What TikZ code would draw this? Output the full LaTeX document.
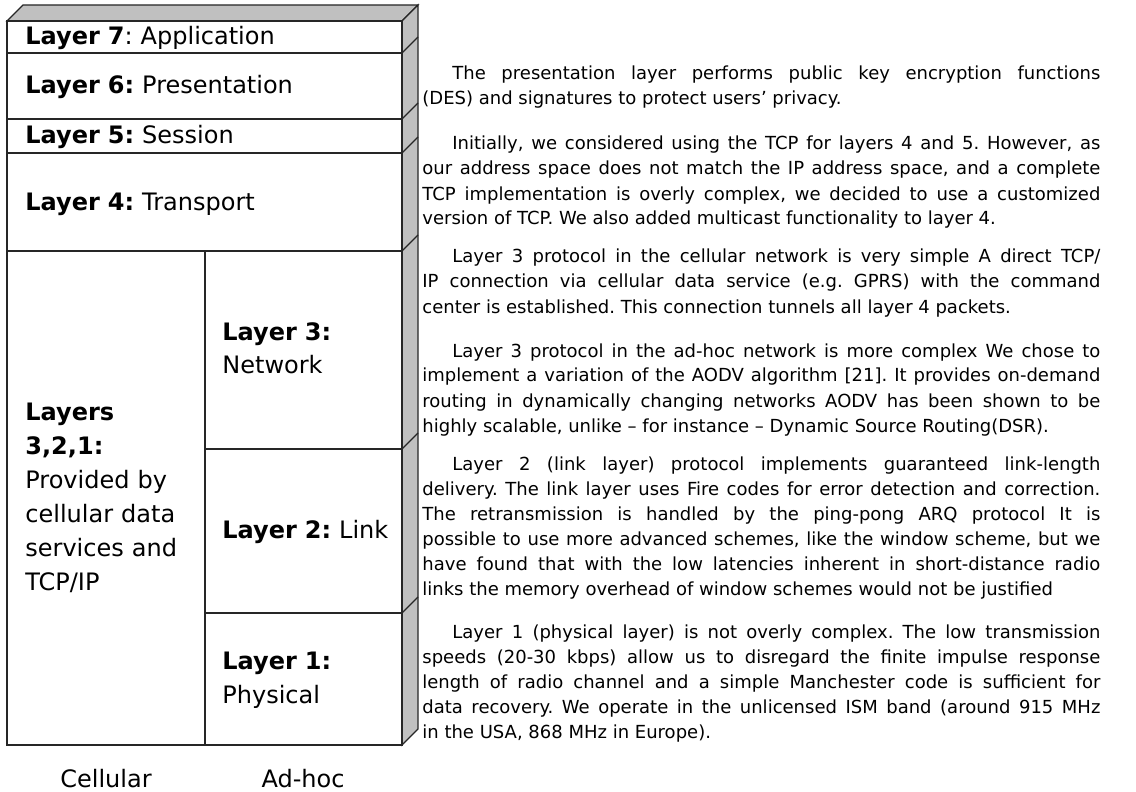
\documentclass[tikz,border=0pt]{standalone}
\usepackage{fontspec}
\setmainfont{DejaVu Sans}
\definecolor{gris}{HTML}{C0C0C0}
\definecolor{linea}{HTML}{262626}
% linea justificada
\newcommand{\jl}[1]{\makebox[\linewidth][s]{#1}\\}
\tikzset{
  borde/.style={draw=linea, line width=0.6pt},
  cara/.style={borde, fill=gris},
  capa/.style={anchor=base west, inner sep=0pt, text width=180pt, align=left,
    font=\fontsize{12pt}{17pt}\selectfont\frenchspacing},
  parr/.style={anchor=base west, inner sep=0pt, text width=339pt, align=justify,
    font=\fontsize{9pt}{12.5pt}\selectfont\frenchspacing},
}
\begin{document}
\begin{tikzpicture}[x=0.5pt, y=-0.5pt]
  \useasboundingbox (0,0) rectangle (1136,792);
  % Caras en perspectiva
  \draw[cara] (7,21) -- (23,5) -- (418,5) -- (402,21) -- cycle;
  \draw[cara] (402,21) -- (418,5) -- (418,729) -- (402,745) -- cycle;
  % Cara frontal y divisiones
  \draw[borde] (7,21) rectangle (402,745);
  \foreach \y in {53,119,153,251} \draw[borde] (7,\y) -- (402,\y);
  \draw[borde] (205,251) -- (205,745);
  \foreach \y in {449,613} \draw[borde] (205,\y) -- (402,\y);
  \foreach \y in {53,119,153,251,449,613} \draw[borde] (402,\y) -- ++(16,-16);
  % Capas
  \node[capa] (l7) at (25,45) {\textbf{Layer 7}: Application};
  \node[capa] (l6) at (25,94) {\textbf{Layer 6:} Presentation};
  \node[capa] (l5) at (25,144) {\textbf{Layer 5:} Session};
  \node[capa] (l4) at (25,211) {\textbf{Layer 4:} Transport};
  \node[capa, text width=85pt] (l321) at (25,420) {\textbf{Layers}\\\textbf{3,2,1:}\\Provided by\\cellular data\\services and\\TCP/IP};
  \node[capa, text width=85pt] (l3) at (222,340) {\textbf{Layer 3:}\\Network};
  \node[capa, text width=85pt] (l2) at (222,538) {\textbf{Layer 2:} Link};
  \node[capa, text width=85pt] (l1) at (222,669) {\textbf{Layer 1:}\\Physical};
  % Columnas
  \node[capa, text width={}, anchor=base] (cel) at (106,787) {Cellular};
  \node[capa, text width={}, anchor=base] (adh) at (303,787) {Ad-hoc};
  % Texto
  \node[parr] (p1) at (422,80) {\jl{\hspace*{15pt}The presentation layer performs public key encryption functions}(DES) and signatures to protect users’ privacy.};
  \node[parr] (p2) at (422,150) {\jl{\hspace*{15pt}Initially, we considered using the TCP for layers 4 and 5. However, as}\jl{our address space does not match the IP address space, and a complete}\jl{TCP implementation is overly complex, we decided to use a customized}version of TCP. We also added multicast functionality to layer 4.};
  \node[parr] (p3) at (422,263) {\jl{\hspace*{15pt}Layer 3 protocol in the cellular network is very simple A direct TCP/}\jl{IP connection via cellular data service (e.g. GPRS) with the command}center is established. This connection tunnels all layer 4 packets.};
  \node[parr] (p4) at (422,357) {\jl{\hspace*{15pt}Layer 3 protocol in the ad-hoc network is more complex We chose to}\jl{implement a variation of the AODV algorithm [21]. It provides on-demand}\jl{routing in dynamically changing networks AODV has been shown to be}highly scalable, unlike – for instance – Dynamic Source Routing(DSR).};
  \node[parr] (p5) at (422,470) {\jl{\hspace*{15pt}Layer 2 (link layer) protocol implements guaranteed link-length}\jl{delivery. The link layer uses Fire codes for error detection and correction.}\jl{The retransmission is handled by the ping-pong ARQ protocol It is}\jl{possible to use more advanced schemes, like the window scheme, but we}\jl{have found that with the low latencies inherent in short-distance radio}links the memory overhead of window schemes would not be justified};
  \node[parr] (p6) at (422,638) {\jl{\hspace*{15pt}Layer 1 (physical layer) is not overly complex. The low transmission}\jl{speeds (20-30 kbps) allow us to disregard the finite impulse response}\jl{length of radio channel and a simple Manchester code is sufficient for}\jl{data recovery. We operate in the unlicensed ISM band (around 915 MHz}in the USA, 868 MHz in Europe).};
\end{tikzpicture}
\end{document}
